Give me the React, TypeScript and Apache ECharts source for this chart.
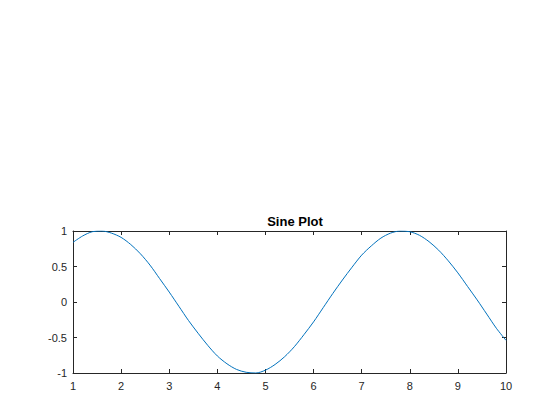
import React, { useEffect, useRef } from "react";
import * as echarts from "echarts";

const xValues = [1.0, 1.2, 1.4, 1.6, 1.8, 2.0, 2.2, 2.4, 2.6, 2.8, 3.0, 3.2, 3.4, 3.6, 3.8, 4.0, 4.2, 4.4, 4.6, 4.8, 5.0, 5.2, 5.4, 5.6, 5.8, 6.0, 6.2, 6.4, 6.6, 6.8, 7.0, 7.2, 7.4, 7.6, 7.8, 8.0, 8.2, 8.4, 8.6, 8.8, 9.0, 9.2, 9.4, 9.6, 9.8, 10.0];
const yValues = [0.84, 0.93, 0.99, 1.0, 0.97, 0.91, 0.81, 0.68, 0.52, 0.33, 0.14, -0.06, -0.26, -0.44, -0.61, -0.76, -0.87, -0.95, -0.99, -1.0, -0.96, -0.88, -0.77, -0.63, -0.46, -0.28, -0.08, 0.12, 0.31, 0.49, 0.66, 0.79, 0.9, 0.97, 1.0, 0.99, 0.94, 0.85, 0.73, 0.58, 0.41, 0.22, 0.03, -0.17, -0.37, -0.54];
const titleText = "Sine Plot";

export default function App() {
  const ref = useRef<HTMLDivElement>(null);
  useEffect(() => {
    if (!ref.current) return;
    const chart = echarts.init(ref.current, null, { renderer: "svg" });
    const font = "'Liberation Sans', Arial, Helvetica, sans-serif";
    const axisLine = { show: true, onZero: false, lineStyle: { color: "#262626", width: 1 } };
    const tick = { show: true, inside: true, length: 4, lineStyle: { color: "#262626" } };
    const label = { color: "#262626", fontSize: 11, fontFamily: font };
    chart.setOption({
      animation: false,
      backgroundColor: "#ffffff",
      title: {
        text: titleText,
        left: 290,
        top: 210,
        textAlign: "center",
        textStyle: { fontSize: 13, fontWeight: "bold", color: "#000", fontFamily: font },
      },
      grid: { left: 73, top: 231, width: 433, height: 142, containLabel: false },
      xAxis: [
        {
          type: "value", min: 1, max: 10, interval: 1, position: "bottom",
          axisLine, axisTick: tick, splitLine: { show: false },
          axisLabel: { ...label, margin: 7 },
        },
        {
          type: "value", min: 1, max: 10, interval: 1, position: "top",
          axisLine, axisTick: tick, splitLine: { show: false }, axisLabel: { show: false },
        },
      ],
      yAxis: [
        {
          type: "value", min: -1, max: 1, interval: 0.5, position: "left",
          axisLine, axisTick: tick, splitLine: { show: false },
          axisLabel: { ...label, margin: 6 },
        },
        {
          type: "value", min: -1, max: 1, interval: 0.5, position: "right",
          axisLine, axisTick: tick, splitLine: { show: false }, axisLabel: { show: false },
        },
      ],
      series: [
        {
          type: "line",
          data: xValues.map((x, i) => [x, yValues[i]]),
          smooth: 0.3,
          showSymbol: false,
          lineStyle: { color: "#0072BD", width: 1 },
        },
      ],
    });
    return () => chart.dispose();
  }, []);
  return <div ref={ref} style={{ width: 560, height: 420, position: "absolute", left: 0, top: 0 }} />;
}
